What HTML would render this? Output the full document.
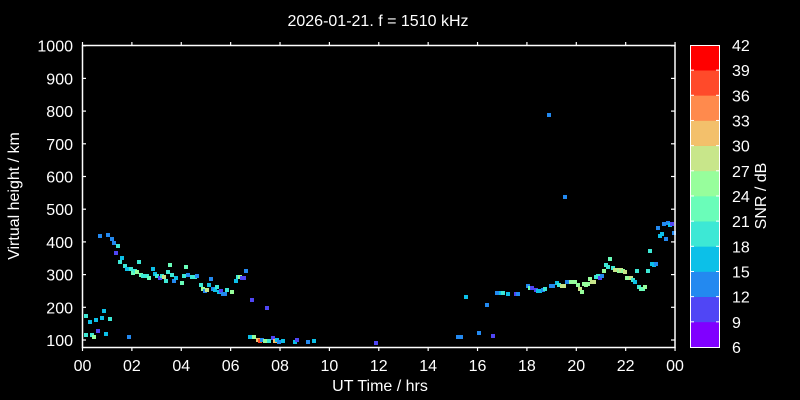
<!DOCTYPE html>
<html><head><meta charset="utf-8"><style>
html,body{margin:0;padding:0;background:#000;width:800px;height:400px;overflow:hidden}
svg text{font-family:"Liberation Sans",sans-serif;fill:#fff}
</style></head><body>
<svg width="800" height="400" xmlns="http://www.w3.org/2000/svg">
<rect width="800" height="400" fill="#000"/>
<text x="378" y="26" font-size="16" text-anchor="middle">2026-01-21. f = 1510 kHz</text>
<g id="pts"></g>
<g stroke="#fff" stroke-width="1.5" fill="none">
<rect x="82.5" y="45.5" width="592.5" height="302"/>
</g>
<g id="ticks" stroke="#fff" stroke-width="1.2"></g>
<g id="lbl" font-size="16"></g>
<text x="380" y="391" font-size="16" text-anchor="middle">UT Time / hrs</text>
<text transform="translate(19,196) rotate(-90)" font-size="16" text-anchor="middle">Virtual height / km</text>
<g id="cb"></g>
<rect x="690.5" y="45.5" width="29" height="302" fill="none" stroke="#fff" stroke-width="1"/>
<text transform="translate(766,196) rotate(-90)" font-size="16" text-anchor="middle">SNR / dB</text>
</svg>
<script>
var ns="http://www.w3.org/2000/svg";
function el(t,a,p,txt){var e=document.createElementNS(ns,t);for(var k in a)e.setAttribute(k,a[k]);if(txt!==undefined)e.textContent=txt;document.getElementById(p).appendChild(e);}
var X=function(t){return 82.5+t*24.69},Y=function(h){return 340-(h-100)*0.327};
for(var i=0;i<=12;i++){var x=X(i*2);el('line',{x1:x,y1:347,x2:x,y2:351},'ticks');el('line',{x1:x,y1:45,x2:x,y2:42},'ticks');
var v=(i*2)%24;el('text',{x:x,y:371,'text-anchor':'middle'},'lbl',(v<10?'0':'')+v);}
for(var h=100;h<=1000;h+=100){var y=Y(h);el('line',{x1:82,y1:y,x2:86,y2:y},'ticks');el('line',{x1:675,y1:y,x2:671,y2:y},'ticks');
el('text',{x:73,y:y+6,'text-anchor':'end'},'lbl',h);}
var cols=['#8000ff','#5046f5','#2389f0','#0cc0e8','#3de8d5','#6afdb9','#97fe9c','#c8e68a','#f3c06b','#ff8a4d','#ff4a2a','#ff0000'];
for(var i=0;i<12;i++){var y0=347-(i+1)*25.17;el('rect',{x:690,y:y0,width:30,height:25.5,fill:cols[i]},'cb');
if(i>0){el('line',{x1:690,y1:347-i*25.17,x2:694,y2:347-i*25.17,stroke:'#fff'},'cb');el('line',{x1:720,y1:347-i*25.17,x2:716,y2:347-i*25.17,stroke:'#fff'},'cb');}}
for(var i=0;i<=12;i++){el('text',{x:732,y:347-i*25.17+6},'cb',6+3*i);}
var P='b=#2389f0,c=#0cc0e8,t=#3de8d5,g=#6afdb9,l=#97fe9c,y=#c8e68a,o=#f3c06b,r=#ff4a2a,p=#5046f5,v=#8000ff';
var C={};P.split(',').forEach(function(s){var a=s.split('=');C[a[0]]=a[1];});
var D="100,236,b 108,235,b 112,239,b 114,243,b 118,246,t 116,253,p 122,258,c 120,262,t 125,266,t 127,269,c 131,269,t 133,273,g 135,271,t 137,272,l 139,262,t 141,275,g 143,276,t 145,276,t 147,276,t 149,278,g 153,269,c 155,274,c 157,276,t 160,278,p 162,276,t 164,277,y 166,281,t 168,272,t 170,265,g 172,275,t 174,281,b 176,278,c 182,283,g 184,276,t 186,267,g 188,275,b 192,277,t 195,277,t 197,276,b 201,285,t 203,289,l 205,291,b 207,290,y 209,285,c 211,279,b 213,289,b 215,290,c 217,287,t 219,292,c 221,291,p 223,294,b 225,294,b 227,290,t 232,292,l 236,281,c 238,277,t 240,277,l 242,278,p 244,278,p 246,271,b 252,300,p 267,308,p 86,316,t 90,322,c 96,320,c 102,318,c 104,311,c 110,319,t 86,335,t 92,335,t 94,337,l 98,331,p 106,334,c 129,337,b 250,337,c 254,337,l 258,340,o 260,341,r 262,340,b 265,341,l 269,341,t 273,338,p 275,341,o 277,340,c 279,342,b 283,341,c 295,342,c 297,340,p 308,342,b 314,341,c 376,343,p 466,297,c 487,305,b 458,337,b 461,337,b 479,333,b 493,336,p 497,293,b 501,293,c 503,293,t 508,294,c 516,294,p 518,294,b 528,286,b 530,288,g 532,288,p 536,290,p 538,291,c 540,291,c 543,290,b 545,289,t 551,286,b 553,286,b 557,283,c 559,285,t 562,286,y 564,286,y 567,282,b 571,282,l 573,282,l 575,282,l 578,285,l 580,289,y 582,292,l 584,284,l 586,285,l 588,284,l 590,279,l 592,282,y 594,282,y 596,277,t 598,276,t 600,278,p 602,276,b 604,271,l 610,259,g 606,265,t 608,267,t 613,268,t 615,270,y 617,270,y 619,271,l 621,270,y 623,271,l 625,272,y 627,278,l 629,278,l 631,278,y 633,280,t 635,282,c 637,271,t 639,287,t 641,289,g 643,289,g 645,287,l 648,271,t 650,251,t 652,264,c 654,265,c 656,264,b 658,228,b 660,236,c 662,234,c 664,224,b 666,239,b 668,223,b 670,225,c 672,224,p 674,233,b 549,115,b 565,197,b";
D.split(' ').forEach(function(s){var a=s.split(',');el('rect',{x:+a[0]-2,y:+a[1]-2,width:4,height:4,fill:C[a[2]]},'pts');});
</script>
</body></html>
